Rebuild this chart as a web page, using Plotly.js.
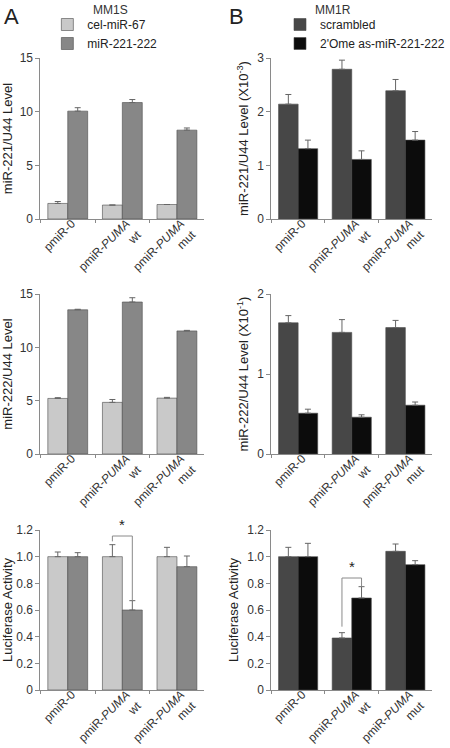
<!DOCTYPE html>
<html>
<head>
<meta charset="utf-8">
<script src="https://cdn.plot.ly/plotly-3.0.1.min.js"></script>
<style>html,body{margin:0;padding:0;background:#fff;}#chart{width:450px;height:748px;}</style>
</head>
<body>
<div id="chart"></div>
<script>
// ---- data ----
const categories = ["pmiR-0", "pmiR-<i>PUMA</i><br>wt", "pmiR-<i>PUMA</i><br>mut"];

// Panel A (MM1S)
const seriesA = ["cel-miR-67", "miR-221-222"];
const a221_ctrl = [1.45, 1.30, 1.35];
const a221_ctrl_err = [0.18, 0.0, 0.0];
const a221_mir = [10.05, 10.85, 8.28];
const a221_mir_err = [0.32, 0.28, 0.2];

const a222_ctrl = [5.21, 4.84, 5.24];
const a222_ctrl_err = [0.07, 0.27, 0.07];
const a222_mir = [13.52, 14.25, 11.54];
const a222_mir_err = [0.05, 0.4, 0.05];

const aLuc_ctrl = [1.0, 1.0, 1.0];
const aLuc_ctrl_err = [0.035, 0.09, 0.07];
const aLuc_mir = [1.0, 0.6, 0.925];
const aLuc_mir_err = [0.03, 0.07, 0.08];

// Panel B (MM1R)
const seriesB = ["scrambled", "2'Ome as-miR-221-222"];
const b221_scr = [2.14, 2.79, 2.39];
const b221_scr_err = [0.18, 0.17, 0.21];
const b221_as = [1.31, 1.11, 1.47];
const b221_as_err = [0.16, 0.16, 0.16];

const b222_scr = [1.64, 1.52, 1.58];
const b222_scr_err = [0.09, 0.16, 0.09];
const b222_as = [0.51, 0.46, 0.61];
const b222_as_err = [0.05, 0.03, 0.04];

const bLuc_scr = [1.0, 0.39, 1.04];
const bLuc_scr_err = [0.07, 0.04, 0.055];
const bLuc_as = [1.0, 0.69, 0.94];
const bLuc_as_err = [0.1, 0.085, 0.03];

const yTicks221A = [0, 5, 10, 15];
const yTicks221B = [0, 1, 2, 3];
const yTicks222B = [0, 1, 2];
const yTicksLuc = [0, 0.2, 0.4, 0.6, 0.8, 1.0, 1.2];
const yTicksLucText = ["0", "0.2", "0.4", "0.6", "0.8", "1.0", "1.2"];

// significance brackets (category index, bracket top)
const sigA = {cat: 1, top: 1.155};
const sigB = {cat: 1, top: 0.84};

// ---- style ----
const colA = ["#c9c9c9", "#878787"];
const colB = ["#474747", "#0c0c0c"];
const FONT = "Liberation Sans, Arial, sans-serif";
const W = 450, H = 748;
const BARGAP = 0.27;

function bar(name, y, err, color, xa, ya, legend, showlegend) {
  return {
    type: "bar", name: name, x: categories, y: y,
    xaxis: xa, yaxis: ya, legend: legend, showlegend: showlegend,
    marker: {color: color, line: {color: "#4a4a4a", width: 0.6}},
    error_y: {type: "data", array: err, arrayminus: err.map(() => 0), symmetric: false,
              color: "#666", thickness: 1, width: 3},
    hoverinfo: "skip"
  };
}

const traces = [
  bar(seriesA[0], a221_ctrl, a221_ctrl_err, colA[0], "x", "y", "legend", true),
  bar(seriesA[1], a221_mir, a221_mir_err, colA[1], "x", "y", "legend", true),
  bar(seriesB[0], b221_scr, b221_scr_err, colB[0], "x2", "y2", "legend2", true),
  bar(seriesB[1], b221_as, b221_as_err, colB[1], "x2", "y2", "legend2", true),
  bar(seriesA[0], a222_ctrl, a222_ctrl_err, colA[0], "x3", "y3", "legend", false),
  bar(seriesA[1], a222_mir, a222_mir_err, colA[1], "x3", "y3", "legend", false),
  bar(seriesB[0], b222_scr, b222_scr_err, colB[0], "x4", "y4", "legend2", false),
  bar(seriesB[1], b222_as, b222_as_err, colB[1], "x4", "y4", "legend2", false),
  bar(seriesA[0], aLuc_ctrl, aLuc_ctrl_err, colA[0], "x5", "y5", "legend", false),
  bar(seriesA[1], aLuc_mir, aLuc_mir_err, colA[1], "x5", "y5", "legend", false),
  bar(seriesB[0], bLuc_scr, bLuc_scr_err, colB[0], "x6", "y6", "legend2", false),
  bar(seriesB[1], bLuc_as, bLuc_as_err, colB[1], "x6", "y6", "legend2", false)
];

const domXA = [41 / W, 207 / W], domXB = [275 / W, 438 / W];
const domTop = [1 - 219 / H, 1 - 58 / H];
const domMid = [1 - 454 / H, 1 - 294 / H];
const domBot = [1 - 690 / H, 1 - 530 / H];

function xax(dom, anchor) {
  return {
    domain: dom, anchor: anchor, type: "category", range: [-0.5, 2.5],
    showline: true, linecolor: "#8a8a8a", linewidth: 1,
    ticks: "outside", tickson: "boundaries", ticklen: 3, tickcolor: "#8a8a8a",
    tickangle: -45, ticklabelshift: 4, ticklabelstandoff: -8,
    tickfont: {family: FONT, size: 12, color: "#333"},
    showgrid: false, zeroline: false, fixedrange: true
  };
}
function yax(dom, anchor, range, vals, text, title) {
  return {
    domain: dom, anchor: anchor, range: range,
    tickvals: vals, ticktext: text || vals.map(String),
    showline: true, linecolor: "#8a8a8a", linewidth: 1,
    ticks: "outside", ticklen: 4, tickcolor: "#8a8a8a",
    tickfont: {family: FONT, size: 12, color: "#333"},
    showgrid: false, zeroline: false, fixedrange: true,
    title: {text: title, font: {family: FONT, size: 13, color: "#222"}, standoff: 5}
  };
}

// bar centre offset inside a group of two
const half = (1 - BARGAP) / 4;

function bracket(xref, yref, cat, top, yLeft, yRight) {
  const xl = cat - half, xr = cat + half;
  const lc = "#8a8a8a";
  return [
    {type: "line", xref: xref, yref: yref, x0: xl, x1: xl, y0: yLeft, y1: top, line: {color: lc, width: 1}},
    {type: "line", xref: xref, yref: yref, x0: xl, x1: xr, y0: top, y1: top, line: {color: lc, width: 1}},
    {type: "line", xref: xref, yref: yref, x0: xr, x1: xr, y0: top, y1: yRight, line: {color: lc, width: 1}}
  ];
}

const shapes = [].concat(
  bracket("x5", "y5", sigA.cat, sigA.top,
          aLuc_ctrl[sigA.cat] + aLuc_ctrl_err[sigA.cat] + 0.025,
          aLuc_mir[sigA.cat] + aLuc_mir_err[sigA.cat]),
  bracket("x6", "y6", sigB.cat, sigB.top,
          bLuc_scr[sigB.cat] + bLuc_scr_err[sigB.cat] + 0.045,
          bLuc_as[sigB.cat] + bLuc_as_err[sigB.cat])
);

const annotations = [
  {text: "A", xref: "paper", yref: "paper", x: 2 / W, y: 1 - 2 / H, xanchor: "left", yanchor: "top",
   showarrow: false, font: {family: FONT, size: 22, color: "#222"}},
  {text: "B", xref: "paper", yref: "paper", x: 230 / W, y: 1 - 2 / H, xanchor: "left", yanchor: "top",
   showarrow: false, font: {family: FONT, size: 22, color: "#222"}},
  {text: "MM1S", xref: "paper", yref: "paper", x: 112 / W, y: 1 - 1 / H, xanchor: "center", yanchor: "top",
   showarrow: false, font: {family: FONT, size: 12, color: "#333"}},
  {text: "MM1R", xref: "paper", yref: "paper", x: 338 / W, y: 1 - 1 / H, xanchor: "center", yanchor: "top",
   showarrow: false, font: {family: FONT, size: 12, color: "#333"}},
  {text: "*", xref: "x5", yref: "y5", x: sigA.cat, y: sigA.top + 0.01, yanchor: "bottom",
   showarrow: false, font: {family: FONT, size: 15, color: "#222"}},
  {text: "*", xref: "x6", yref: "y6", x: sigB.cat, y: sigB.top + 0.01, yanchor: "bottom",
   showarrow: false, font: {family: FONT, size: 15, color: "#222"}}
];

const legendBase = {
  font: {family: FONT, size: 12, color: "#222"},
  bgcolor: "rgba(0,0,0,0)", borderwidth: 0,
  xanchor: "left", yanchor: "top", orientation: "v",
  itemwidth: 30, tracegroupgap: 0, traceorder: "normal"
};

const layout = {
  width: W, height: H,
  margin: {l: 0, r: 0, t: 0, b: 0},
  paper_bgcolor: "#fff", plot_bgcolor: "#fff",
  barmode: "group", bargap: BARGAP, bargroupgap: 0,
  font: {family: FONT, size: 12, color: "#333"},
  xaxis: xax(domXA, "y"),
  yaxis: yax(domTop, "x", [0, 15], yTicks221A, null, "miR-221/U44 Level"),
  xaxis2: xax(domXB, "y2"),
  yaxis2: yax(domTop, "x2", [0, 3], yTicks221B, null, "miR-221/U44 Level (X10<sup>-3</sup>)"),
  xaxis3: xax(domXA, "y3"),
  yaxis3: yax(domMid, "x3", [0, 15], yTicks221A, null, "miR-222/U44 Level"),
  xaxis4: xax(domXB, "y4"),
  yaxis4: yax(domMid, "x4", [0, 2], yTicks222B, null, "miR-222/U44 Level (X10<sup>-1</sup>)"),
  xaxis5: xax(domXA, "y5"),
  yaxis5: yax(domBot, "x5", [0, 1.2], yTicksLuc, yTicksLucText, "Luciferase Activity"),
  xaxis6: xax(domXB, "y6"),
  yaxis6: yax(domBot, "x6", [0, 1.2], yTicksLuc, yTicksLucText, "Luciferase Activity"),
  legend: Object.assign({}, legendBase, {x: 48 / W, y: 1 - 10 / H}),
  legend2: Object.assign({}, legendBase, {x: 284 / W, y: 1 - 10 / H}),
  shapes: shapes,
  annotations: annotations
};

Plotly.newPlot("chart", traces, layout, {staticPlot: true, displayModeBar: false});
</script>
</body>
</html>
